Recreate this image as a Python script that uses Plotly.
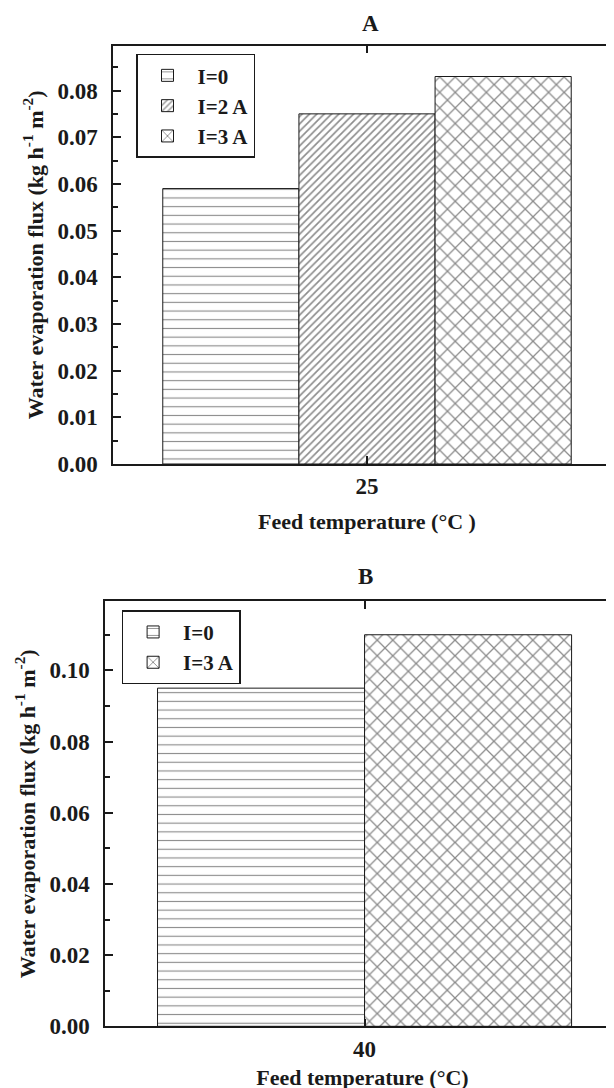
import plotly.graph_objects as go

# ---- data ----
temp_A = ["25"]
series_A = ["I=0", "I=2 A", "I=3 A"]
flux_A = [0.059, 0.075, 0.083]

temp_B = ["40"]
series_B = ["I=0", "I=3 A"]
flux_B = [0.095, 0.110]

yticks_A = [0.00, 0.01, 0.02, 0.03, 0.04, 0.05, 0.06, 0.07, 0.08]
yticks_B = [0.00, 0.02, 0.04, 0.06, 0.08, 0.10]

patterns = {"I=0": ("-", 8.7, 0.13), "I=2 A": ("/", 5.2, 0.32), "I=3 A": ("x", 11, 0.22)}

W, H = 614, 1088
FONT = "Liberation Serif"
INK = "#1a1a1a"


def px_x(p):
    return p / W


def px_y(p):
    return 1 - p / H


fig = go.Figure()

for name, val in zip(series_A, flux_A):
    shp, size, sol = patterns[name]
    fig.add_trace(go.Bar(
        x=temp_A, y=[val], name=name, xaxis="x", yaxis="y", legend="legend",
        marker=dict(color="white", line=dict(color=INK, width=1),
                    pattern=dict(shape=shp, size=size, solidity=sol,
                                 fgcolor=INK, bgcolor="white", fillmode="overlay")),
    ))

for name, val in zip(series_B, flux_B):
    shp, size, sol = patterns[name]
    fig.add_trace(go.Bar(
        x=temp_B, y=[val], name=name, xaxis="x2", yaxis="y2", legend="legend2",
        marker=dict(color="white", line=dict(color=INK, width=1),
                    pattern=dict(shape=shp, size=size, solidity=sol,
                                 fgcolor=INK, bgcolor="white", fillmode="overlay")),
    ))

axis_common = dict(showline=True, linecolor=INK, linewidth=1.5, ticks="inside",
                   tickcolor=INK, tickwidth=1.5, ticklen=8, showgrid=False, zeroline=False,
                   automargin=False,
                   tickfont=dict(family=FONT, size=23, color=INK, weight="bold"))

ytitle = "Water evaporation flux (kg h<sup>-1</sup> m<sup>-2</sup>)"
title_font = dict(family=FONT, size=22, color=INK, weight="bold")

dom_xA = [px_x(105), px_x(613)]
dom_yA = [px_y(456), px_y(37.7)]
dom_xB = [px_x(97), px_x(612)]
dom_yB = [px_y(1018.3), px_y(593.3)]

rangeA = [0, 0.0896]
rangeB = [0, 0.1194]

legend_font = dict(family=FONT, size=21, color=INK, weight="bold")

overlay_common = dict(showticklabels=False, showline=True, linecolor=INK, linewidth=1.5,
                      ticks="inside", tickcolor=INK, tickwidth=1.5, ticklen=8,
                      showgrid=False, zeroline=False, automargin=False)

fig.update_layout(
    width=W, height=H,
    margin=dict(l=0, r=0, t=0, b=0),
    paper_bgcolor="white", plot_bgcolor="white",
    barmode="group", bargap=0.196, bargroupgap=0,
    font=dict(family=FONT, size=22, color=INK, weight="bold"),
    xaxis=dict(domain=dom_xA, anchor="y", type="category", range=[-0.5, 0.5],
               mirror="ticks", ticklabelstandoff=1,
               title=dict(text="Feed temperature (°C )", font=title_font, standoff=15),
               **axis_common),
    yaxis=dict(domain=dom_yA, anchor="x", range=rangeA, tickvals=yticks_A, tickformat=".2f",
               ticklabelstandoff=9,
               minor=dict(dtick=0.005, ticks="inside", ticklen=5, tickcolor=INK, tickwidth=1.5),
               title=dict(text=ytitle, font=title_font, standoff=8),
               **axis_common),
    yaxis3=dict(overlaying="y", anchor="x", side="right", range=rangeA, tickvals=yticks_A,
                **overlay_common),
    xaxis2=dict(domain=dom_xB, anchor="y2", type="category", range=[-0.504, 0.496],
                mirror="ticks", ticklabelstandoff=1,
                title=dict(text="Feed temperature (°C)", font=title_font, standoff=9),
                **axis_common),
    yaxis2=dict(domain=dom_yB, anchor="x2", range=rangeB, tickvals=yticks_B, tickformat=".2f",
                ticklabelstandoff=9,
                minor=dict(dtick=0.01, ticks="inside", ticklen=5, tickcolor=INK, tickwidth=1.5),
                title=dict(text=ytitle, font=title_font, standoff=8),
                **axis_common),
    yaxis4=dict(overlaying="y2", anchor="x2", side="right", range=rangeB, tickvals=yticks_B,
                **overlay_common),
    legend=dict(x=px_x(128), y=px_y(45.7), xanchor="left", yanchor="top",
                bgcolor="white", bordercolor=INK, borderwidth=1.5,
                font=legend_font, tracegroupgap=0, itemwidth=50),
    legend2=dict(x=px_x(113.6), y=px_y(602.3), xanchor="left", yanchor="top",
                 bgcolor="white", bordercolor=INK, borderwidth=1.5,
                 font=legend_font, tracegroupgap=0, itemwidth=50),
    annotations=[
        dict(text="A", x=px_x(362), y=px_y(15), xref="paper", yref="paper",
             xanchor="center", yanchor="middle", showarrow=False,
             font=dict(family=FONT, size=23, color=INK, weight="bold")),
        dict(text="B", x=px_x(357), y=px_y(568), xref="paper", yref="paper",
             xanchor="center", yanchor="middle", showarrow=False,
             font=dict(family=FONT, size=23, color=INK, weight="bold")),
    ],
)

fig.write_html("out.html")
